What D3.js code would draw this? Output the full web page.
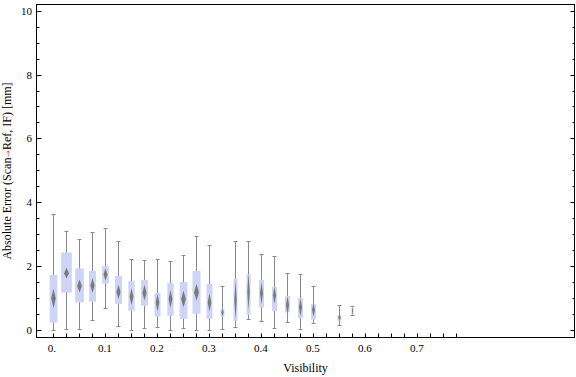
<!DOCTYPE html>
<html>
<head>
<meta charset="utf-8">
<script src="https://cdn.jsdelivr.net/npm/d3@7"></script>
<style>
  html, body { margin: 0; padding: 0; background: #fff; }
  svg { display: block; }
</style>
</head>
<body>
<div id="chart"></div>
<script>
// Box-whisker par classe de visibilité (pas de 0.025)
const visibility = [0, 0.025, 0.05, 0.075, 0.1, 0.125, 0.15, 0.175, 0.2, 0.225, 0.25,
  0.275, 0.3, 0.325, 0.35, 0.375, 0.4, 0.425, 0.45, 0.475, 0.5, 0.55, 0.575]
const whiskerLo = [0, 0.02, 0.02, 0.30, 0.68, 0.12, 0, 0.05, 0.08, 0, 0.05,
  0, 0, 0.02, 0.10, 0.33, 0.27, 0.05, 0.24, 0.02, 0.21, 0.15, 0.46]
const q1 = [0.23, 1.17, 0.86, 0.89, 1.46, 0.82, 0.61, 0.76, 0.42, 0.45, 0.35,
  0.51, 0.35, 0.41, 0.29, 0.48, 0.70, 0.59, 0.55, 0.37, 0.33, 0.29, 0.47]
const median = [0.99, 1.78, 1.38, 1.39, 1.74, 1.19, 1.04, 1.17, 0.86, 0.97, 0.97,
  1.18, 0.86, 0.55, 0.94, 1.20, 1.15, 1.09, 0.78, 0.71, 0.63, 0.39, 0.60]
const q3 = [1.72, 2.43, 1.93, 1.85, 2.00, 1.69, 1.53, 1.57, 1.16, 1.47, 1.50,
  1.85, 1.44, 0.67, 1.60, 1.75, 1.57, 1.35, 1.06, 1.00, 0.81, 0.47, 0.73]
const whiskerHi = [3.62, 3.11, 2.84, 3.06, 3.18, 2.79, 2.21, 2.18, 2.21, 2.15, 2.35,
  2.94, 2.66, 1.38, 2.79, 2.79, 2.38, 2.32, 1.79, 1.75, 1.37, 0.77, 0.74]
// largeur relative des boîtes (effectif), 1 = la plus large
const boxWeight = [0.72, 1, 0.81, 0.65, 0.63, 0.65, 0.59, 0.65, 0.56, 0.59, 0.72,
  0.75, 0.56, 0.35, 0.37, 0.37, 0.47, 0.47, 0.47, 0.47, 0.47, 0.37, 0.19]
// étendue verticale du losange médian (unités de y)
const medianSpan = [0.60, 0.34, 0.41, 0.47, 0.38, 0.44, 0.53, 0.50, 0.53, 0.56, 0.53,
  0.53, 0.56, 0.25, 1.19, 1.16, 0.69, 0.53, 0.56, 0.56, 0.41, 0.19, 0.31]

const xTickLabels = [0, 0.1, 0.2, 0.3, 0.4, 0.5, 0.6, 0.7]
const yTickLabels = [0, 2, 4, 6, 8, 10]

const W = 576, H = 377
const frame = { left: 36.5, right: 574.5, top: 4.5, bottom: 337.5 }

const x = d3.scaleLinear().domain([0, 1]).range([52.8, 572.8])
const y = d3.scaleLinear().domain([0, 10]).range([330, 10.7])
const wScale = d3.scaleLinear().domain([0, 1]).range([0, 10.7])

const boxes = visibility.map((v, i) => ({
  v, lo: whiskerLo[i], q1: q1[i], med: median[i], q3: q3[i], hi: whiskerHi[i],
  w: wScale(boxWeight[i]), span: medianSpan[i]
}))

const svg = d3.select("#chart").append("svg")
  .attr("width", W).attr("height", H)
  .attr("viewBox", `0 0 ${W} ${H}`)
  .style("font-family", "'Liberation Serif', 'DejaVu Serif', serif")

const defs = svg.append("defs")
defs.append("filter").attr("id", "soft")
  .attr("x", "-100%").attr("y", "-50%").attr("width", "300%").attr("height", "200%")
  .append("feGaussianBlur").attr("stdDeviation", 0.6)

const grey = "#8a8a8a"
const cx = d => Math.round(x(d.v)) + 0.5

// --- Moustaches ---
const g = svg.append("g")
g.selectAll("line.whisker")
  .data(boxes)
  .join("line")
  .attr("class", "whisker")
  .attr("x1", cx).attr("x2", cx)
  .attr("y1", d => y(d.lo)).attr("y2", d => y(d.hi))
  .attr("stroke", grey).attr("stroke-width", 1)

for (const key of ["lo", "hi"]) {
  g.selectAll(`line.cap-${key}`)
    .data(boxes)
    .join("line")
    .attr("x1", d => cx(d) - 2).attr("x2", d => cx(d) + 2)
    .attr("y1", d => Math.round(y(d[key])) + 0.5).attr("y2", d => Math.round(y(d[key])) + 0.5)
    .attr("stroke", grey).attr("stroke-width", 1)
}

// --- Boîtes ---
g.selectAll("rect.box")
  .data(boxes)
  .join("rect")
  .attr("class", "box")
  .attr("x", d => cx(d) - d.w / 2)
  .attr("width", d => d.w)
  .attr("y", d => y(d.q3))
  .attr("height", d => y(d.q1) - y(d.q3))
  .attr("fill", "#cdd4f6")

// --- Losanges médians ---
g.selectAll("path.med")
  .data(boxes)
  .join("path")
  .attr("class", "med")
  .attr("d", d => {
    const c = cx(d)
    const hw = Math.min(2.4, d.w * 0.3)
    const t = y(d.med + d.span / 2), b = y(d.med - d.span / 2), m = y(d.med)
    return `M${c},${t}L${c + hw},${m}L${c},${b}L${c - hw},${m}Z`
  })
  .attr("fill", "#7a7a7a")
  .attr("filter", "url(#soft)")

// --- Cadre ---
svg.append("rect")
  .attr("x", frame.left).attr("y", frame.top)
  .attr("width", frame.right - frame.left).attr("height", frame.bottom - frame.top)
  .attr("fill", "none").attr("stroke", "#000").attr("stroke-width", 1)

// Graduations Y (vers l'intérieur, gauche et droite)
const yMinor = d3.range(0, 10.01, 0.5).filter(v => v % 2 !== 0)
function yTicks(side) {
  const sign = side === "left" ? 1 : -1
  const x0 = side === "left" ? frame.left : frame.right
  svg.append("g").selectAll("line")
    .data(yTickLabels.map(v => ({ v, len: side === "left" ? 5 : 4 }))
      .concat(yMinor.map(v => ({ v, len: side === "left" ? 3 : 2 }))))
    .join("line")
    .attr("x1", x0).attr("x2", d => x0 + sign * d.len)
    .attr("y1", d => Math.round(y(d.v)) + 0.5).attr("y2", d => Math.round(y(d.v)) + 0.5)
    .attr("stroke", "#000")
}
yTicks("left")
yTicks("right")

svg.append("g").selectAll("text")
  .data(yTickLabels)
  .join("text")
  .attr("x", 32).attr("y", d => y(d) + 4)
  .attr("text-anchor", "end").attr("font-size", 11)
  .text(d => d)

// Graduations X : une par classe
svg.append("g").selectAll("line")
  .data(d3.range(32).map(k => k * 0.025))
  .join("line")
  .attr("x1", d => Math.round(x(d)) + 0.5).attr("x2", d => Math.round(x(d)) + 0.5)
  .attr("y1", frame.bottom).attr("y2", frame.bottom - 4)
  .attr("stroke", "#000")

svg.append("g").selectAll("text")
  .data(xTickLabels)
  .join("text")
  .attr("x", d => x(d) - (d === 0 ? 1 : 0)).attr("y", 352)
  .attr("text-anchor", "middle").attr("font-size", 11)
  .text(d => d === 0 ? "0." : String(d))

// --- Titres d'axes ---
svg.append("text")
  .attr("x", (frame.left + frame.right) / 2).attr("y", 372)
  .attr("text-anchor", "middle").attr("font-size", 12)
  .text("Visibility")

const yt = svg.append("text")
  .attr("transform", `translate(11,${(frame.top + frame.bottom) / 2}) rotate(-90)`)
  .attr("text-anchor", "middle").attr("font-size", 12)
yt.append("tspan").text("Absolute Error (Scan")
yt.append("tspan").attr("fill", "#e0702a").attr("font-family", "'DejaVu Sans'")
  .attr("font-size", 9).text("→")
yt.append("tspan").text("Ref, IF) [mm]")
</script>
</body>
</html>
